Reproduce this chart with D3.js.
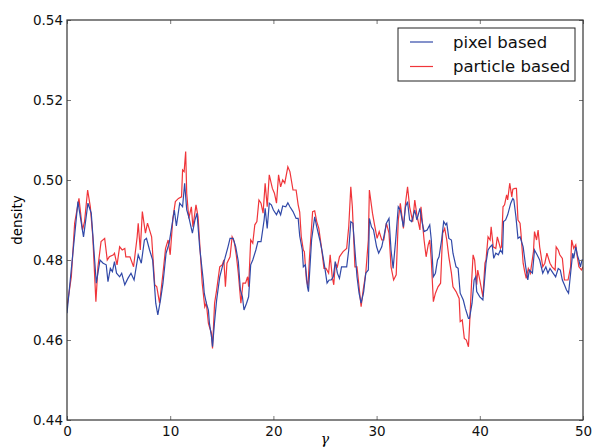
<!DOCTYPE html>
<html>
<head>
<meta charset="utf-8">
<script src="https://cdn.jsdelivr.net/npm/d3@7"></script>
<style>
  html, body { margin: 0; padding: 0; background: #fff; }
  svg { display: block; font-family: "DejaVu Sans", sans-serif; }
</style>
</head>
<body>
<div id="chart"></div>
<script>
/* density vs gamma: pixel based vs particle based */

var xTicks = [0, 10, 20, 30, 40, 50];
var yTicks = [0.44, 0.46, 0.48, 0.50, 0.52, 0.54];
var seriesNames = ['pixel based', 'particle based'];

var pixelX = [0, 1.06, 1.6, 2.03, 2.35, 2.84, 3.2, 3.5, 3.8, 3.97, 4.2, 4.4, 4.6, 4.8, 5.1, 5.3, 5.6, 5.9, 6.2, 6.5,
    6.9, 7.2, 7.5, 7.7, 8.0, 8.3, 8.6, 8.8, 9.06, 9.3, 9.6, 9.9, 10.4, 10.6, 10.92, 11.2, 11.4, 11.6, 11.8, 12.15,
    12.4, 12.6, 12.85, 13.2, 13.3, 13.5, 13.7, 13.8, 14.0, 14.1, 14.3, 14.5, 14.8, 15.05, 15.3, 15.6, 15.8, 16.1, 16.35, 16.6,
    16.8, 17.0, 17.15, 17.4, 17.6, 17.8, 18.0, 18.3, 18.5, 18.8, 19.1, 19.2, 19.4, 19.6, 19.8, 20.0, 20.3, 20.5, 20.7, 20.9,
    21.2, 21.4, 21.6, 21.9, 22.2, 22.4, 22.55, 22.8, 22.9, 23.1, 23.3, 23.4, 23.7, 24.0, 24.2, 24.5, 24.75, 24.97, 25.2, 25.4,
    25.6, 25.8, 26.0, 26.2, 26.4, 26.6, 26.9, 27.1, 27.3, 27.5, 27.7, 27.9, 28.1, 28.3, 28.5, 28.75, 28.95, 29.2, 29.3, 29.5,
    29.7, 30.0, 30.2, 30.5, 30.7, 30.95, 31.2, 31.4, 31.6, 31.85, 32.1, 32.3, 32.6, 32.8, 33.0, 33.2, 33.4, 33.7, 33.9, 34.2,
    34.4, 34.6, 34.9, 35.15, 35.3, 35.5, 35.7, 35.9, 36.05, 36.3, 36.5, 36.7, 36.8, 37.0, 37.25, 37.4, 37.7, 37.9, 38.1, 38.4,
    38.6, 38.9, 39.0, 39.25, 39.45, 39.6, 39.7, 40.0, 40.3, 40.6, 40.8, 41.0, 41.2, 41.35, 41.55, 41.8, 42.0, 42.2, 42.3, 42.5,
    42.7, 43.0, 43.2, 43.3, 43.5, 43.7, 43.9, 44.2, 44.45, 44.65, 44.8, 45.1, 45.3, 45.55, 45.8, 46.1, 46.4, 46.6, 46.8, 47.1,
    47.35, 47.6, 47.8, 48.0, 48.2, 48.4, 48.6, 48.8, 49.0, 49.1, 49.3, 49.45, 49.6, 49.75, 49.9, 50.0];
var pixelY = [0.4667, 0.4946, 0.4858, 0.4942, 0.4917, 0.4742, 0.4800, 0.4792, 0.4788, 0.4746, 0.4779, 0.4771, 0.4796, 0.4767, 0.4758, 0.4767, 0.4738, 0.4754, 0.4767, 0.4750,
    0.4813, 0.4792, 0.4850, 0.4854, 0.4825, 0.4800, 0.4692, 0.4663, 0.4700, 0.4742, 0.4817, 0.4842, 0.4925, 0.4885, 0.4942, 0.4933, 0.4992, 0.4925, 0.4908, 0.4867,
    0.4900, 0.4917, 0.4833, 0.4750, 0.4717, 0.4692, 0.4675, 0.4642, 0.4608, 0.4583, 0.4646, 0.4700, 0.4758, 0.4783, 0.4804, 0.4833, 0.4854, 0.4854, 0.4833, 0.4796,
    0.4725, 0.4708, 0.4675, 0.4692, 0.4708, 0.4788, 0.4800, 0.4825, 0.4846, 0.4846, 0.4900, 0.4929, 0.4879, 0.4942, 0.4938, 0.4925, 0.4913, 0.4925, 0.4913, 0.4935,
    0.4933, 0.4943, 0.4933, 0.4921, 0.4904, 0.4904, 0.4860, 0.4825, 0.4783, 0.4788, 0.4733, 0.4721, 0.4850, 0.4908, 0.4883, 0.4850, 0.4817, 0.4783, 0.4742, 0.4750,
    0.4750, 0.4758, 0.4796, 0.4767, 0.4754, 0.4783, 0.4783, 0.4783, 0.4825, 0.4896, 0.4892, 0.4825, 0.4758, 0.4717, 0.4692, 0.4721, 0.4767, 0.4775, 0.4904, 0.4883,
    0.4875, 0.4833, 0.4817, 0.4833, 0.4858, 0.4892, 0.4904, 0.4825, 0.4779, 0.4850, 0.4933, 0.4925, 0.4883, 0.4933, 0.4946, 0.4900, 0.4896, 0.4925, 0.4900, 0.4929,
    0.4896, 0.4871, 0.4875, 0.4888, 0.4850, 0.4758, 0.4767, 0.4800, 0.4808, 0.4850, 0.4896, 0.4888, 0.4892, 0.4854, 0.4850, 0.4817, 0.4783, 0.4779, 0.4717, 0.4700,
    0.4679, 0.4654, 0.4654, 0.4692, 0.4750, 0.4758, 0.4721, 0.4708, 0.4700, 0.4792, 0.4825, 0.4833, 0.4838, 0.4804, 0.4817, 0.4813, 0.4825, 0.4817, 0.4896, 0.4900,
    0.4913, 0.4942, 0.4954, 0.4950, 0.4908, 0.4854, 0.4858, 0.4833, 0.4783, 0.4750, 0.4775, 0.4767, 0.4825, 0.4813, 0.4800, 0.4767, 0.4783, 0.4767, 0.4779, 0.4767,
    0.4758, 0.4779, 0.4775, 0.4750, 0.4738, 0.4725, 0.4717, 0.4767, 0.4817, 0.4804, 0.4833, 0.4813, 0.4800, 0.4783, 0.4800, 0.4800];

var particleX = [0, 0.42, 0.74, 1.16, 1.5, 1.7, 2.0, 2.26, 2.5, 2.8, 3.0, 3.3, 3.65, 3.9, 4.1, 4.5, 4.6, 4.85, 5.1, 5.35,
    5.6, 5.7, 6.1, 6.45, 6.8, 6.9, 7.1, 7.3, 7.6, 7.8, 8.2, 8.5, 8.7, 8.97, 9.3, 9.55, 9.8, 10.0, 10.26, 10.5,
    10.8, 11.1, 11.2, 11.35, 11.5, 11.6, 11.8, 12.05, 12.2, 12.5, 12.7, 12.9, 13.1, 13.35, 13.5, 13.7, 13.8, 14.0, 14.1, 14.3,
    14.5, 14.8, 15.05, 15.2, 15.35, 15.5, 15.8, 16.0, 16.2, 16.4, 16.6, 16.85, 17.05, 17.3, 17.5, 17.6, 17.8, 18.0, 18.2, 18.4,
    18.6, 18.8, 19.0, 19.2, 19.4, 19.6, 19.9, 20.1, 20.3, 20.5, 20.7, 20.9, 21.1, 21.4, 21.6, 21.9, 22.2, 22.4, 22.55, 22.7,
    22.9, 23.0, 23.2, 23.35, 23.5, 23.8, 24.0, 24.2, 24.4, 24.65, 24.9, 25.1, 25.35, 25.5, 25.7, 25.85, 26.0, 26.2, 26.4, 26.75,
    27.1, 27.3, 27.5, 27.65, 27.9, 28.1, 28.3, 28.5, 28.7, 28.95, 29.2, 29.3, 29.6, 29.8, 30.05, 30.25, 30.5, 30.7, 30.95, 31.2,
    31.4, 31.65, 31.9, 32.1, 32.3, 32.6, 32.8, 33.0, 33.2, 33.5, 33.7, 33.9, 34.2, 34.3, 34.6, 34.8, 35.0, 35.15, 35.3, 35.5,
    35.7, 35.95, 36.2, 36.4, 36.6, 36.8, 37.0, 37.25, 37.4, 37.7, 38.0, 38.1, 38.3, 38.5, 38.7, 38.9, 39.0, 39.2, 39.35, 39.5,
    39.7, 39.8, 40.0, 40.3, 40.5, 40.6, 40.8, 41.0, 41.1, 41.3, 41.55, 41.7, 42.0, 42.1, 42.25, 42.4, 42.6, 42.7, 42.9, 43.1,
    43.2, 43.4, 43.55, 43.7, 43.9, 44.0, 44.2, 44.35, 44.5, 44.7, 44.9, 45.2, 45.3, 45.5, 45.65, 45.8, 46.1, 46.3, 46.5, 46.8,
    47.0, 47.3, 47.4, 47.6, 47.75, 48.0, 48.2, 48.55, 48.8, 48.9, 49.1, 49.3, 49.45, 49.6, 49.85, 50.0];
var particleY = [0.4683, 0.4758, 0.4892, 0.4954, 0.4875, 0.4896, 0.4975, 0.4933, 0.4858, 0.4696, 0.4783, 0.4846, 0.4854, 0.4800, 0.4808, 0.4813, 0.4817, 0.4788, 0.4833, 0.4825,
    0.4829, 0.4808, 0.4808, 0.4783, 0.4858, 0.4892, 0.4825, 0.4921, 0.4867, 0.4892, 0.4858, 0.4738, 0.4733, 0.4692, 0.4767, 0.4829, 0.4850, 0.4813, 0.4904, 0.4946,
    0.4954, 0.4958, 0.5025, 0.5021, 0.5071, 0.4967, 0.4904, 0.4933, 0.4883, 0.4938, 0.4908, 0.4825, 0.4742, 0.4683, 0.4692, 0.4642, 0.4633, 0.4617, 0.4579, 0.4692,
    0.4725, 0.4783, 0.4788, 0.4800, 0.4733, 0.4792, 0.4808, 0.4858, 0.4846, 0.4813, 0.4767, 0.4692, 0.4742, 0.4742, 0.4758, 0.4733, 0.4850, 0.4842, 0.4888, 0.4896,
    0.4950, 0.4942, 0.4917, 0.4992, 0.4933, 0.5013, 0.4979, 0.4967, 0.4942, 0.5013, 0.4983, 0.5000, 0.4992, 0.5033, 0.5021, 0.4975, 0.4975, 0.4938, 0.4920, 0.4858,
    0.4825, 0.4821, 0.4750, 0.4733, 0.4808, 0.4921, 0.4923, 0.4896, 0.4879, 0.4833, 0.4779, 0.4779, 0.4767, 0.4813, 0.4758, 0.4738, 0.4792, 0.4783, 0.4808, 0.4821,
    0.4829, 0.4883, 0.4983, 0.4933, 0.4783, 0.4783, 0.4733, 0.4683, 0.4725, 0.4767, 0.4850, 0.4975, 0.4917, 0.4888, 0.4854, 0.4871, 0.4850, 0.4850, 0.4892, 0.4867,
    0.4783, 0.4750, 0.4763, 0.4900, 0.4942, 0.4879, 0.4942, 0.4983, 0.4933, 0.4896, 0.4950, 0.4913, 0.4875, 0.4933, 0.4850, 0.4808, 0.4838, 0.4850, 0.4800, 0.4696,
    0.4717, 0.4733, 0.4742, 0.4867, 0.4879, 0.4850, 0.4808, 0.4767, 0.4733, 0.4721, 0.4704, 0.4646, 0.4650, 0.4604, 0.4600, 0.4583, 0.4633, 0.4742, 0.4813, 0.4800,
    0.4738, 0.4775, 0.4750, 0.4708, 0.4792, 0.4800, 0.4858, 0.4850, 0.4883, 0.4833, 0.4829, 0.4858, 0.4829, 0.4833, 0.4933, 0.4938, 0.4963, 0.4950, 0.4992, 0.4958,
    0.4977, 0.4979, 0.4979, 0.4900, 0.4892, 0.4863, 0.4792, 0.4771, 0.4754, 0.4779, 0.4767, 0.4821, 0.4871, 0.4850, 0.4875, 0.4833, 0.4783, 0.4792, 0.4817, 0.4792,
    0.4783, 0.4775, 0.4833, 0.4825, 0.4813, 0.4804, 0.4750, 0.4750, 0.4783, 0.4850, 0.4829, 0.4838, 0.4808, 0.4783, 0.4775, 0.4783];

var W = 593, H = 448;
var margin = { left: 67, right: 10, top: 20, bottom: 28 };
var pw = W - margin.left - margin.right;
var ph = H - margin.top - margin.bottom;

var BLUE = '#3149a8';
var RED = '#f0353a';

var svg = d3.select('#chart').append('svg')
    .attr('width', W).attr('height', H);

var x = d3.scaleLinear().domain([0, 50]).range([0, pw]);
var y = d3.scaleLinear().domain([0.44, 0.54]).range([ph, 0]);

var g = svg.append('g').attr('transform', 'translate(' + margin.left + ',' + margin.top + ')');

// clip lines to the plot frame
svg.append('defs').append('clipPath').attr('id', 'plotclip')
    .append('rect').attr('width', pw).attr('height', ph);

var line = d3.line()
    .x(function(d) { return x(d[0]); })
    .y(function(d) { return y(d[1]); });

var pixelData = pixelX.map(function(v, i) { return [v, pixelY[i]]; });
var particleData = particleX.map(function(v, i) { return [v, particleY[i]]; });

var lines = g.append('g').attr('clip-path', 'url(#plotclip)');
lines.append('path').datum(particleData)
    .attr('d', line).attr('fill', 'none')
    .attr('stroke', RED).attr('stroke-width', 1.2);
lines.append('path').datum(pixelData)
    .attr('d', line).attr('fill', 'none')
    .attr('stroke', BLUE).attr('stroke-width', 1.2);

// Axes: ticks inside on all four sides
function styleAxis(sel) {
    sel.select('.domain').remove();
    sel.selectAll('.tick line').attr('stroke', '#777').attr('stroke-width', 1);
    sel.selectAll('.tick text').attr('fill', '#111')
        .style('font-family', '"DejaVu Sans", sans-serif').style('font-size', '13.5px');
}

g.append('g').attr('transform', 'translate(0,' + ph + ')')
    .call(d3.axisBottom(x).tickValues(xTicks).tickSize(-4).tickPadding(6).tickFormat(d3.format('d')))
    .call(styleAxis);
g.append('g')
    .call(d3.axisTop(x).tickValues(xTicks).tickSize(-4).tickFormat(''))
    .call(styleAxis);
g.append('g')
    .call(d3.axisLeft(y).tickValues(yTicks).tickSize(-4).tickPadding(4).tickFormat(d3.format('.2f')))
    .call(styleAxis);
g.append('g').attr('transform', 'translate(' + pw + ',0)')
    .call(d3.axisRight(y).tickValues(yTicks).tickSize(-4).tickFormat(''))
    .call(styleAxis);

// frame
g.append('rect').attr('width', pw).attr('height', ph)
    .attr('fill', 'none').attr('stroke', '#333').attr('stroke-width', 1.2);

// axis labels
svg.append('text')
    .attr('x', margin.left + x(25)).attr('y', H - 4)
    .attr('text-anchor', 'middle')
    .style('font-family', '"DejaVu Serif", serif').style('font-style', 'italic').style('font-size', '14px')
    .text('γ');
svg.append('text')
    .attr('transform', 'translate(22,' + (margin.top + ph / 2) + ') rotate(-90)')
    .attr('text-anchor', 'middle')
    .style('font-size', '13.5px')
    .text('density');

// legend
var legend = svg.append('g').attr('transform', 'translate(398,28)');
legend.append('rect').attr('width', 177).attr('height', 53)
    .attr('fill', '#fff').attr('stroke', '#222').attr('stroke-width', 1);
var colors = [BLUE, RED];
seriesNames.forEach(function(name, i) {
    var ly = 14 + i * 24.5;
    legend.append('line').attr('x1', 12).attr('x2', 35).attr('y1', ly).attr('y2', ly)
        .attr('stroke', colors[i]).attr('stroke-width', 1.2);
    legend.append('text').attr('x', 55).attr('y', ly + 5.5)
        .style('font-size', '16.5px').attr('fill', '#111')
        .text(name);
});
</script>
</body>
</html>
